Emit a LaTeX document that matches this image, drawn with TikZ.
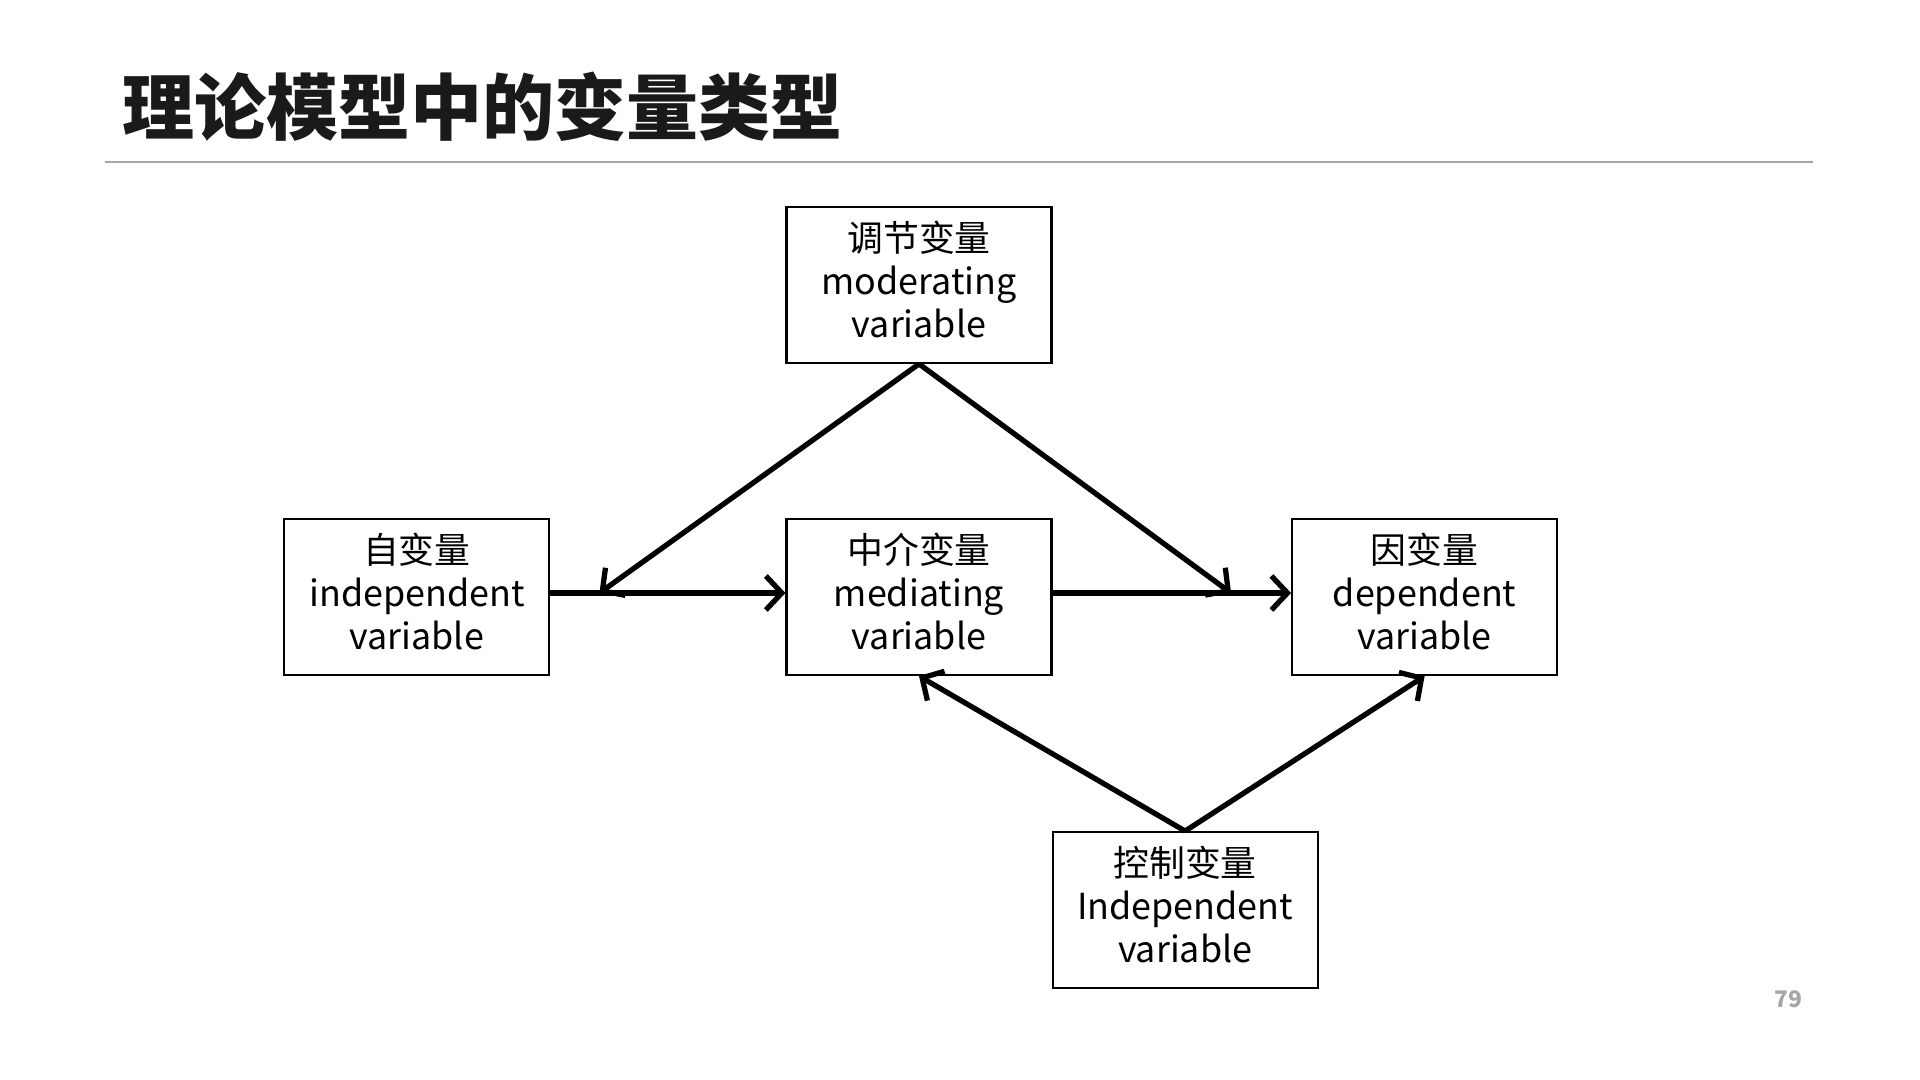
\documentclass[tikz,border=0pt]{standalone}
\usepackage{fontspec}
\setmainfont{Noto Sans CJK SC}
\newfontfamily\cjk{Noto Sans CJK SC}
\usetikzlibrary{positioning, arrows.meta}

\definecolor{titlegray}{HTML}{1A1A1A}
\definecolor{rulegray}{HTML}{A6A6A6}

\begin{document}
\begin{tikzpicture}[
    every node/.style = {font=\cjk\fontsize{10.2pt}{12.2pt}\selectfont, align=center},
    varbox/.style = {draw, line width=0.6pt, minimum width=2.65cm, minimum height=1.56cm, inner sep=0pt, text depth=1.1mm},
    link/.style = {draw, line width=1.5pt, -{Straight Barb[length=1.6mm, width=3.4mm, line width=1.5pt]}}
]
    \useasboundingbox (0,0) rectangle (19.2,-10.8);

    % title and rule
    \node (title) [anchor=west, text=titlegray, font=\cjk\bfseries\fontsize{20.5pt}{24pt}\selectfont] at (1.1,-1.07) {理论模型中的变量类型};
    \coordinate (ruleL) at (1.05,-1.62);
    \coordinate (ruleR) at (18.13,-1.62);
    \draw [rulegray, line width=0.6pt] (ruleL) -- (ruleR);

    \node (med) [varbox] at (9.19,-5.97) {中介变量\\mediating\\variable};
    \node (mod) [varbox, above=1.54cm of med] {调节变量\\moderating\\variable};
    \node (ind) [varbox, left=2.35cm of med] {自变量\\independent\\variable};
    \node (dep) [varbox, right=2.385cm of med] {因变量\\dependent\\variable};
    \node (ctl) [varbox, below right=1.55cm and -0.01cm of med] {控制变量\\Independent\\variable};

    % the horizontal links sit a little above the box centres
    \coordinate (indR) at ([yshift=0.4mm]ind.east);
    \coordinate (medL) at ([yshift=0.4mm]med.west);
    \coordinate (medR) at ([yshift=0.4mm]med.east);
    \coordinate (depL) at ([yshift=0.4mm]dep.west);
    \coordinate (hitL) at ([xshift=4.9mm]indR);
    \coordinate (hitR) at ([xshift=-6mm]depL);

    \draw [link] (indR) -- (medL);
    \draw [link] (medR) -- (depL);
    \draw [link] (mod.south) -- (hitL);
    \draw [link] (mod.south) -- (hitR);
    \draw [link] (ctl.north) -- (med.south);
    \draw [link] (ctl.north) -- (dep.south);

    % page number
    \node (page) [text=rulegray, font=\cjk\bfseries\fontsize{6.5pt}{8pt}\selectfont] at (17.88,-9.99) {79};
\end{tikzpicture}
\end{document}
